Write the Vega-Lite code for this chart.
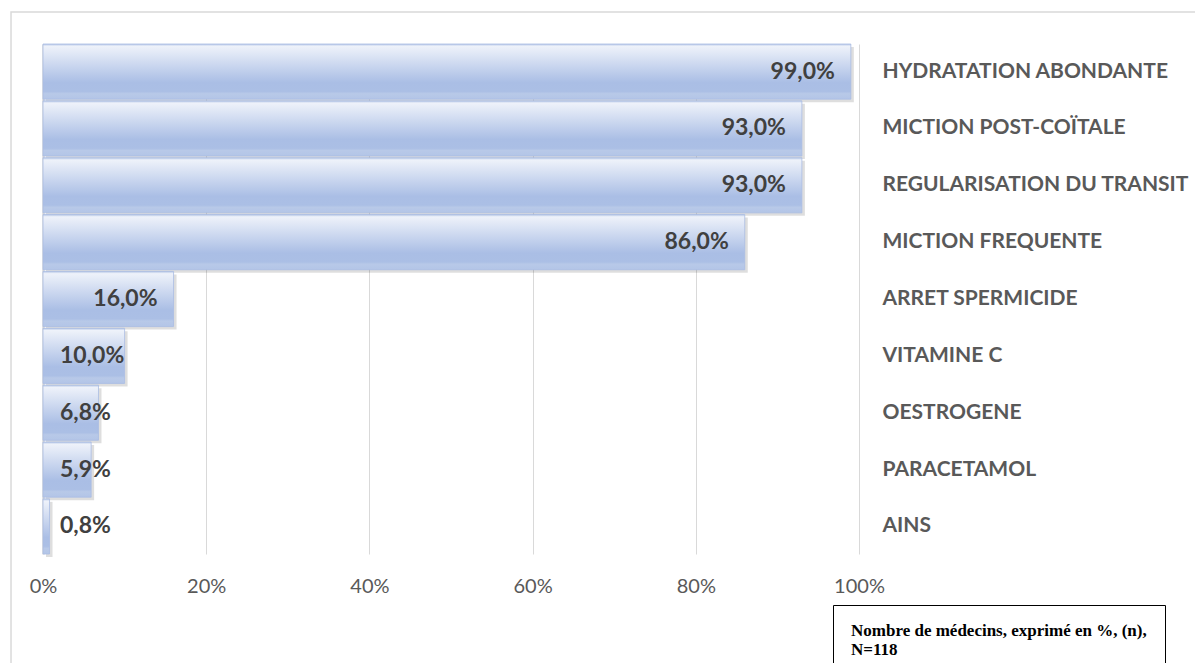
{
  "$schema": "https://vega.github.io/schema/vega-lite/v6.json",
  "width": 816,
  "height": 510,
  "autosize": {"type": "none"},
  "padding": {"left": 43, "top": 44, "right": 336, "bottom": 109},
  "background": "white",
  "config": {
    "view": {"stroke": null},
    "locale": {"number": {"decimal": ",", "thousands": " ", "grouping": [3], "currency": ["", " €"]}}
  },
  "resolve": {"scale": {"y": "independent"}, "axis": {"y": "independent"}},
  "data": {
    "values": [
      {"category": "HYDRATATION ABONDANTE", "value": 0.99},
      {"category": "MICTION POST-COÏTALE", "value": 0.93},
      {"category": "REGULARISATION DU TRANSIT", "value": 0.93},
      {"category": "MICTION FREQUENTE", "value": 0.86},
      {"category": "ARRET SPERMICIDE", "value": 0.16},
      {"category": "VITAMINE C", "value": 0.10},
      {"category": "OESTROGENE", "value": 0.068},
      {"category": "PARACETAMOL", "value": 0.059},
      {"category": "AINS", "value": 0.008}
    ]
  },
  "layer": [
    {
      "data": {"values": [{"frame": "chart area"}]},
      "mark": {"type": "rect", "fill": null, "fillOpacity": 0, "stroke": "#d9d9d9", "strokeWidth": 1.5},
      "encoding": {
        "x": {"datum": -0.0392, "type": "quantitative", "scale": {"domain": [0, 1], "nice": false}},
        "x2": {"datum": 1.5},
        "y": {"datum": 1.0627, "type": "quantitative", "scale": {"domain": [0, 1], "nice": false, "zero": false}, "axis": null},
        "y2": {"datum": -0.4}
      }
    },
    {
      "encoding": {
        "y": {
          "field": "category",
          "type": "nominal",
          "sort": null,
          "scale": {"paddingInner": 0.03, "paddingOuter": 0},
          "axis": {
            "orient": "right",
            "title": null,
            "ticks": false,
            "domain": false,
            "labelAlign": "left",
            "labelPadding": 23,
            "labelFont": "Lato",
            "labelFontWeight": "bold",
            "labelFontSize": 21,
            "labelColor": "#595959",
            "labelLimit": 400
          }
        }
      },
      "layer": [
        {
          "mark": {"type": "bar", "color": "#000000", "xOffset": 3, "yOffset": 3},
          "encoding": {
            "x": {
              "field": "value",
              "type": "quantitative",
              "scale": {"domain": [0, 1], "nice": false},
              "axis": {
                "orient": "bottom",
                "title": null,
                "format": ".0%",
                "values": [0, 0.2, 0.4, 0.6, 0.8, 1],
                "grid": true,
                "gridColor": "#d9d9d9",
                "gridWidth": {"condition": {"test": "datum.value === 0", "value": 2.5}, "value": 1},
                "domain": false,
                "ticks": false,
                "labelFlush": false,
                "labelPadding": 22,
                "labelFont": "Lato",
                "labelFontSize": 20,
                "labelColor": "#595959"
              }
            },
            "opacity": {
              "field": "category",
              "type": "ordinal",
              "scale": {"range": [0.13, 0.13]},
              "legend": {
                "orient": "none",
                "legendX": 790,
                "legendY": 561,
                "values": ["AINS"],
                "title": ["Nombre de médecins, exprimé en %, (n),", "N=118"],
                "titleFont": "Liberation Serif",
                "titleFontSize": 17,
                "titleFontWeight": "bold",
                "titleColor": "#000000",
                "titleLimit": 500,
                "titleLineHeight": 19,
                "strokeColor": "#000000",
                "padding": 18,
                "symbolSize": 0,
                "symbolOpacity": 0,
                "labelExpr": "''",
                "labelFontSize": 1
              }
            }
          }
        },
        {
          "mark": {
            "type": "bar",
            "stroke": "#a9bde3",
            "strokeWidth": 0.8,
            "color": {
              "gradient": "linear",
              "x1": 0, "y1": 0, "x2": 0, "y2": 1,
              "stops": [
                {"offset": 0, "color": "#b4c5e6"},
                {"offset": 0.04, "color": "#eef2fa"},
                {"offset": 0.7, "color": "#aabee5"},
                {"offset": 0.86, "color": "#abbfe5"},
                {"offset": 0.9, "color": "#b8c9e8"},
                {"offset": 1, "color": "#b3c5e7"}
              ]
            }
          },
          "encoding": {
            "x": {"field": "value", "type": "quantitative"}
          }
        },
        {
          "transform": [{"filter": "datum.value >= 0.15"}],
          "mark": {"type": "text", "align": "right", "dx": -16, "font": "Lato", "fontWeight": "bold", "fontSize": 23, "color": "#404040"},
          "encoding": {
            "x": {"field": "value", "type": "quantitative"},
            "text": {"field": "value", "type": "quantitative", "format": ".1%"}
          }
        },
        {
          "transform": [{"filter": "datum.value < 0.15"}],
          "mark": {"type": "text", "align": "left", "dx": 17, "font": "Lato", "fontWeight": "bold", "fontSize": 23, "color": "#404040"},
          "encoding": {
            "x": {"datum": 0},
            "text": {"field": "value", "type": "quantitative", "format": ".1%"}
          }
        }
      ]
    }
  ]
}
